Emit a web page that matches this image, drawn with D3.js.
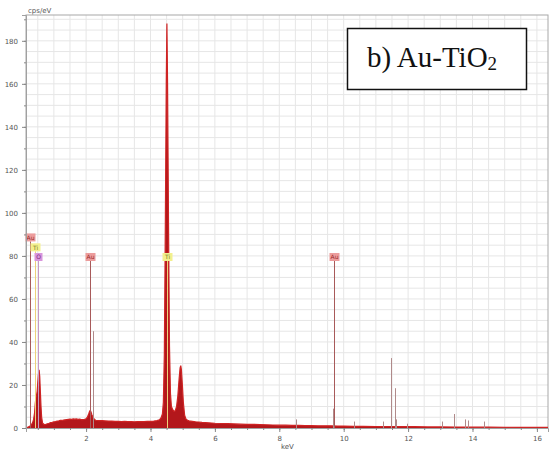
<!DOCTYPE html>
<html><head><meta charset="utf-8">
<script src="https://cdn.jsdelivr.net/npm/d3@7"></script>
<style>body{margin:0;background:#fff}svg{display:block}</style>
</head><body>
<script>
// ---- data ----
const specKeV = [0.134,0.2,0.25,0.3,0.34,0.37,0.40,0.42,0.44,0.46,0.48,0.50,0.52,0.54,0.56,0.58,0.60,0.62,0.65,0.70,0.75,0.8,0.85,0.9,0.95,1.0,1.05,1.1,1.15,1.2,1.25,1.3,1.35,1.4,1.45,1.5,1.55,1.6,1.65,1.7,1.75,1.8,1.85,1.9,1.95,2.0,2.04,2.08,2.11,2.13,2.15,2.18,2.22,2.26,2.3,2.4,2.5,2.6,2.7,2.8,2.9,3.0,3.1,3.2,3.3,3.4,3.5,3.6,3.7,3.8,3.9,4.0,4.1,4.2,4.28,4.33,4.37,4.40,4.43,4.46,4.49,4.51,4.53,4.56,4.59,4.62,4.65,4.69,4.73,4.77,4.81,4.85,4.89,4.92,4.94,4.96,4.99,5.02,5.06,5.10,5.15,5.2,5.3,5.4,5.5,5.6,5.7,5.8,6.0,6.2,6.4,6.6,6.8,7.0,7.2,7.4,7.6,7.8,8.0,8.2,8.4,8.6,8.8,9.0,9.2,9.4,9.6,9.8,10.0,10.3,10.6,11.0,11.4,11.8,12.2,12.6,13.0,13.5,14.0,14.5,15.0,15.5,16.0,16.345];
const specCps = [0.2,0.4,0.8,1.5,2.5,4,7,11,14,15,17,21,25,27,24,17,10,5,2.2,1.6,1.7,2.0,2.2,2.5,2.6,2.9,3.0,3.2,3.3,3.5,3.5,3.7,3.8,3.9,4.0,4.1,4.0,4.2,4.1,4.2,4.0,4.1,3.9,3.9,4.0,4.3,5.0,6.5,7.8,8.2,7.6,6.2,4.8,4.0,3.6,3.4,3.4,3.3,3.2,3.2,3.1,3.1,3.0,3.1,3.0,3.0,2.9,3.0,3.0,3.0,3.1,3.1,3.2,3.4,3.8,4.8,6.5,12,34,92,160,188,160,95,38,16,10,8.5,7.8,8.0,10,15,23,28,29,27,20,12,6,4.2,3.6,3.3,3.1,2.9,2.8,2.6,2.5,2.4,2.2,2.1,2.0,1.9,1.8,1.7,1.7,1.6,1.5,1.4,1.3,1.3,1.2,1.2,1.1,1.1,1.0,1.0,1.0,0.9,0.9,0.8,0.8,0.7,0.7,0.6,0.6,0.5,0.5,0.45,0.4,0.4,0.35,0.3,0.3,0.3];

// thin spectral spikes
const spikeKeV = [2.2,8.52,9.66,10.32,11.23,11.48,11.60,11.64,11.97,13.04,13.43,13.78,13.85,14.36];
const spikeCps = [45,4,9,3,3,32.5,18.5,4,2,3,6.5,4,3.5,3];

// element markers
const markEl   = ["Au","Ti","O","Au","Ti","Au"];
const markKeV  = [0.27,0.40,0.52,2.12,4.51,9.71];
const markTop  = [88.6,84,79.5,79.5,79.5,79.5];

const xTicks = [2,4,6,8,10,12,14,16];
const yTicks = [0,20,40,60,80,100,120,140,160,180];
const yLabel = "cps/eV";
const xLabel = "keV";
const titleMain = "b) Au-TiO";
const titleSub = "2";

// ---- layout ----
const W = 552, H = 456;
const L = 26, R = 548, T = 15, B = 428;
const svg = d3.select("body").append("svg").attr("width", W).attr("height", H);
const x = d3.scaleLinear().domain([0.134, 16.345]).range([L, R]);
const y = d3.scaleLinear().domain([0, 192]).range([B, T]);

// grid
const g = svg.append("g");
g.selectAll(".vg").data(d3.range(0.5, 16.345, 0.5)).join("line")
  .attr("x1", d => x(d)).attr("x2", d => x(d)).attr("y1", T).attr("y2", B)
  .attr("stroke", "#e6e6e6").attr("stroke-width", 1);
g.selectAll(".hg").data(d3.range(5, 192, 5)).join("line")
  .attr("x1", L).attr("x2", R).attr("y1", d => y(d)).attr("y2", d => y(d))
  .attr("stroke", "#e6e6e6").attr("stroke-width", 1);

// frame
svg.append("rect").attr("x", L).attr("y", T).attr("width", R - L).attr("height", B - T)
  .attr("fill", "none").attr("stroke", "#a8a8a8").attr("stroke-width", 1);

// spectrum
const pts = specKeV.map((k, i) => [k, specCps[i]]);
const area = d3.area().x(d => x(d[0])).y0(y(0)).y1(d => y(d[1]));
svg.append("path").datum(pts).attr("d", area).attr("fill", "#b3171b");
svg.append("path").datum(pts).attr("d", d3.line().x(d => x(d[0])).y(d => y(d[1])))
  .attr("fill", "none").attr("stroke", "#cf2424").attr("stroke-width", 1.2);

// spikes
svg.selectAll(".spk").data(spikeKeV).join("line")
  .attr("x1", d => Math.round(x(d)) + 0.5).attr("x2", d => Math.round(x(d)) + 0.5)
  .attr("y1", y(0)).attr("y2", (d, i) => y(spikeCps[i]))
  .attr("stroke", "#b08a8a").attr("stroke-width", 1);

// element markers
const elStyle = {
  "Au": {line: "#a85a5a", bg: "#ec9c9c", fg: "#9a2a2a"},
  "Ti": {line: "#eed27a", bg: "#f3f08e", fg: "#7a7a20"},
  "O":  {line: "#c79ac7", bg: "#d995dc", fg: "#7a2a7a"}
};
markKeV.forEach((k, i) => {
  const s = elStyle[markEl[i]];
  const xx = Math.round(x(k)) + 0.5;
  svg.append("line").attr("x1", xx).attr("x2", xx).attr("y1", y(0)).attr("y2", y(markTop[i]) + 4)
    .attr("stroke", s.line).attr("stroke-width", 1);
  const bw = markEl[i].length > 1 ? 10 : 8, bh = 8;
  svg.append("rect").attr("x", xx - bw / 2).attr("y", y(markTop[i]) - bh / 2)
    .attr("width", bw).attr("height", bh).attr("fill", s.bg);
  svg.append("text").attr("x", xx).attr("y", y(markTop[i]) + 2.2)
    .attr("text-anchor", "middle").attr("font-family", "DejaVu Sans").attr("font-size", 6)
    .attr("fill", s.fg).text(markEl[i]);
});

// axes
const xAxis = svg.append("g").attr("transform", `translate(0,${B})`)
  .call(d3.axisBottom(x).tickValues(xTicks).tickSize(4).tickFormat(d3.format("d")));
svg.append("g").attr("transform", `translate(0,${B})`)
  .call(d3.axisBottom(x).tickValues(d3.range(0.5, 16.345, 0.5)).tickSize(2).tickFormat(""))
  .call(a => a.select(".domain").remove());
const yAxis = svg.append("g").attr("transform", `translate(${L},0)`)
  .call(d3.axisLeft(y).tickValues(yTicks).tickSize(4));
svg.append("g").attr("transform", `translate(${L},0)`)
  .call(d3.axisLeft(y).tickValues(d3.range(10, 192, 10)).tickSize(2).tickFormat(""))
  .call(a => a.select(".domain").remove());
svg.selectAll(".domain").attr("stroke", "#a0a0a0");
svg.selectAll(".tick line").attr("stroke", "#888");
svg.selectAll(".tick text").attr("font-family", "DejaVu Sans").attr("font-size", 7).attr("fill", "#555");
xAxis.selectAll(".tick text").attr("dy", "0.9em");
yAxis.selectAll(".tick text").attr("dx", "-1");

svg.append("text").attr("x", 28).attr("y", 13).attr("font-family", "DejaVu Sans")
  .attr("font-size", 7).attr("fill", "#555").text(yLabel);
svg.append("text").attr("x", x(8.25)).attr("y", 449).attr("text-anchor", "middle")
  .attr("font-family", "DejaVu Sans").attr("font-size", 7).attr("fill", "#555").text(xLabel);

// title box
svg.append("rect").attr("x", 347.5).attr("y", 28.5).attr("width", 179).attr("height", 61)
  .attr("fill", "#fff").attr("stroke", "#111").attr("stroke-width", 1.5);
const t = svg.append("text").attr("x", 367).attr("y", 67)
  .attr("font-family", "Liberation Serif").attr("font-size", 29).attr("fill", "#111");
t.append("tspan").text(titleMain);
t.append("tspan").attr("font-size", 19).attr("dy", 3).text(titleSub);
</script>
</body></html>
